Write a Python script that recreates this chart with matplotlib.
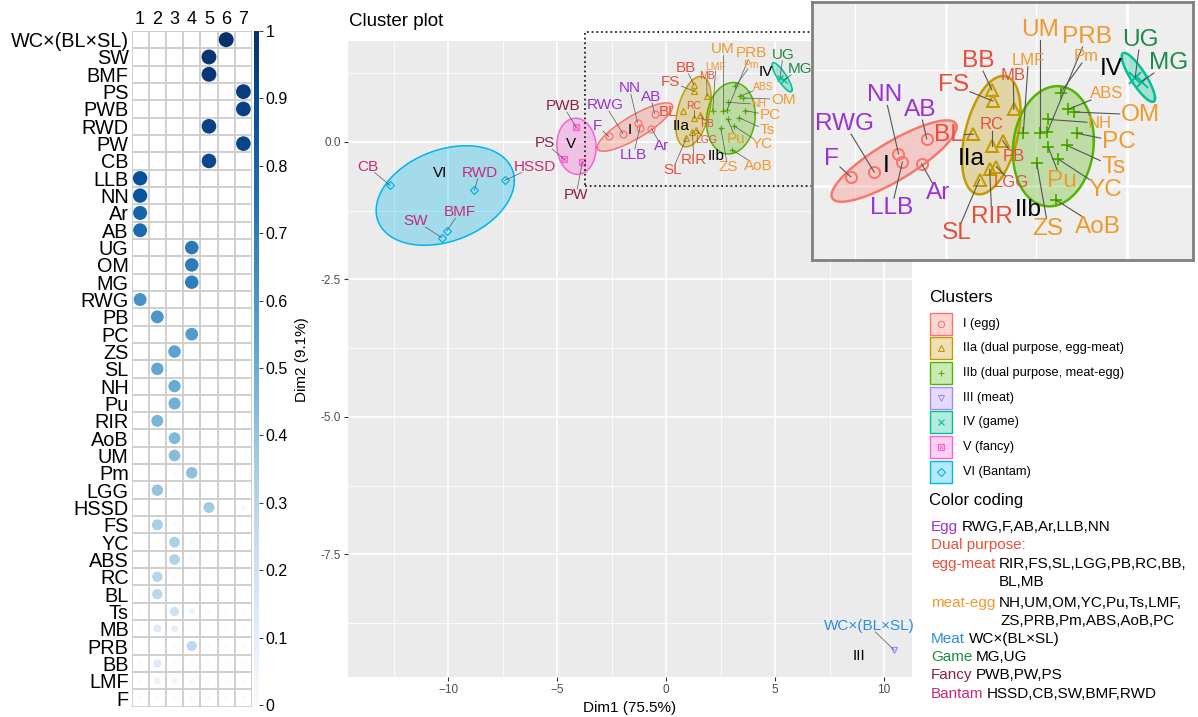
import numpy as np
import matplotlib.pyplot as plt
from matplotlib.patches import Rectangle
from matplotlib.colors import Normalize, to_rgba
from matplotlib.cm import ScalarMappable

plt.rcParams['font.family'] = ['Liberation Sans', 'DejaVu Sans']

W, H = 1198, 717

# ---------------- membership table (rows x groups 1..7) ----------------
rows = ['WC×(BL×SL)', 'SW', 'BMF', 'PS', 'PWB', 'RWD', 'PW', 'CB', 'LLB', 'NN',
        'Ar', 'AB', 'UG', 'OM', 'MG', 'RWG', 'PB', 'PC', 'ZS', 'SL', 'NH', 'Pu',
        'RIR', 'AoB', 'UM', 'Pm', 'LGG', 'HSSD', 'FS', 'YC', 'ABS', 'RC', 'BL',
        'Ts', 'MB', 'PRB', 'BB', 'LMF', 'F']
groups = [1, 2, 3, 4, 5, 6, 7]
member = [
    [0, 0, 0, 0, 0, 1.00, 0],
    [0, 0, 0, 0, 0.98, 0, 0],
    [0, 0, 0, 0, 0.97, 0, 0],
    [0, 0, 0, 0, 0, 0, 0.95],
    [0, 0, 0, 0, 0, 0, 0.94],
    [0, 0, 0, 0, 0.93, 0, 0],
    [0, 0, 0, 0, 0, 0, 0.92],
    [0, 0, 0, 0, 0.91, 0, 0],
    [0.88, 0, 0, 0, 0, 0, 0],
    [0.86, 0, 0, 0, 0, 0, 0],
    [0.80, 0, 0, 0, 0, 0, 0],
    [0.77, 0, 0, 0, 0, 0, 0],
    [0, 0, 0, 0.72, 0, 0, 0],
    [0, 0, 0, 0.71, 0, 0, 0],
    [0, 0, 0, 0.70, 0, 0, 0],
    [0.62, 0, 0, 0, 0, 0, 0],
    [0, 0.60, 0, 0, 0, 0, 0],
    [0, 0, 0, 0.58, 0, 0, 0],
    [0, 0, 0.55, 0, 0, 0, 0],
    [0, 0.53, 0, 0, 0, 0, 0],
    [0, 0, 0.51, 0, 0, 0, 0],
    [0, 0, 0.49, 0, 0, 0, 0],
    [0, 0.47, 0, 0, 0, 0, 0],
    [0, 0, 0.45, 0, 0, 0, 0],
    [0, 0, 0.43, 0, 0, 0, 0],
    [0, 0, 0.01, 0.42, 0, 0, 0],
    [0, 0.40, 0.015, 0, 0, 0, 0],
    [0, 0, 0, 0, 0.36, 0, 0.02],
    [0, 0.35, 0.015, 0, 0, 0, 0],
    [0, 0, 0.33, 0.015, 0.005, 0.005, 0],
    [0, 0, 0.32, 0.015, 0, 0, 0],
    [0, 0.30, 0.015, 0, 0, 0, 0],
    [0.005, 0.29, 0, 0, 0, 0, 0],
    [0.005, 0.005, 0.20, 0.06, 0.005, 0.005, 0.005],
    [0.005, 0.12, 0.09, 0.005, 0, 0.005, 0.005],
    [0, 0.005, 0.015, 0.27, 0.005, 0.005, 0.005],
    [0.005, 0.14, 0.01, 0.01, 0.005, 0.005, 0.005],
    [0.005, 0.07, 0.05, 0.02, 0.005, 0.005, 0.005],
    [0.01, 0.01, 0.01, 0.01, 0.01, 0.01, 0.01],
]

# ---------------- cluster scores ----------------
breed = ['F', 'RWG', 'NN', 'LLB', 'Ar', 'AB',
         'BB', 'FS', 'MB', 'BL', 'RC', 'PB', 'LGG', 'RIR', 'SL',
         'Pm', 'ABS', 'OM', 'LMF', 'UM', 'PRB', 'NH', 'PC', 'Ts', 'Pu', 'YC', 'ZS', 'AoB',
         'WC×(BL×SL)',
         'UG', 'MG',
         'PWB', 'PS', 'PW',
         'CB', 'RWD', 'HSSD', 'BMF', 'SW']
dim1 = [-2.63, -1.98, -1.31, -1.20, -0.67, -0.53,
        1.27, 1.30, 1.88, 0.76, 1.27, 1.57, 1.39, 1.21, 0.93,
        3.17, 3.38, 3.55, 2.14, 2.60, 2.80, 2.83, 3.62, 3.34, 2.83, 3.11, 2.51, 3.04,
        10.46,
        5.23, 5.41,
        -4.13, -4.66, -3.84,
        -12.66, -8.79, -7.40, -10.06, -10.29]
dim2 = [0.10, 0.15, 0.35, 0.26, 0.24, 0.51,
        1.04, 0.92, 0.83, 0.56, 0.43, 0.49, 0.21, 0.18, 0.07,
        1.01, 0.83, 0.80, 0.57, 0.57, 0.58, 0.72, 0.57, 0.44, 0.42, 0.29, 0.25, -0.15,
        -9.24,
        1.17, 1.13,
        0.27, -0.32, -0.37,
        -0.79, -0.88, -0.70, -1.62, -1.74]
cluster = ['I'] * 6 + ['IIa'] * 9 + ['IIb'] * 13 + ['III'] + ['IV'] * 2 + ['V'] * 3 + ['VI'] * 5

# concentration ellipses: centre, half extents and x-y correlation
ell_group = ['I', 'IIa', 'IIb', 'IV', 'V', 'VI']
ell_cx = [-1.43, 1.255, 2.97, 5.32, -4.11, -10.13]
ell_cy = [0.27, 0.55, 0.43, 1.175, -0.08, -0.975]
ell_rx = [1.73, 0.81, 1.12, 0.46, 0.90, 3.17]
ell_ry = [0.44, 0.64, 0.65, 0.265, 0.51, 0.905]
ell_rho = [0.84, 0.40, 0.10, -0.85, -0.05, 0.30]

# breed use categories
cat_names = ['Egg', 'egg-meat', 'meat-egg', 'Meat', 'Game', 'Fancy', 'Bantam']
cat_members = [['RWG', 'F', 'AB', 'Ar', 'LLB', 'NN'],
               ['RIR', 'FS', 'SL', 'LGG', 'PB', 'RC', 'BB', 'BL', 'MB'],
               ['NH', 'UM', 'OM', 'YC', 'Pu', 'Ts', 'LMF', 'ZS', 'PRB', 'Pm', 'ABS', 'AoB', 'PC'],
               ['WC×(BL×SL)'],
               ['MG', 'UG'],
               ['PWB', 'PW', 'PS'],
               ['HSSD', 'CB', 'SW', 'BMF', 'RWD']]

cluster_ids = ['I', 'IIa', 'IIb', 'III', 'IV', 'V', 'VI']
cluster_desc = ['I (egg)', 'IIa (dual purpose, egg-meat)', 'IIb (dual purpose, meat-egg)',
                'III (meat)', 'IV (game)', 'V (fancy)', 'VI (Bantam)']

# ---------------- styles ----------------
clu_col = {'I': '#F8766D', 'IIa': '#C49A00', 'IIb': '#53B400', 'III': '#A58AFF',
           'IV': '#00C094', 'V': '#FB61D7', 'VI': '#00B6EB'}
cat_col = {'Egg': '#9B30D3', 'egg-meat': '#E5503A', 'meat-egg': '#F09A2C', 'Meat': '#2D8CE3',
           'Game': '#1D8B48', 'Fancy': '#8E1E45', 'Bantam': '#C92A78'}
lab_col = {}
for c, mem in zip(cat_names, cat_members):
    for b in mem:
        lab_col[b] = cat_col[c]
small_labels = {'LMF', 'Pm', 'MB', 'RC', 'PB', 'LGG', 'ABS', 'NH'}

label_xy = {
    'F': (-3.16, 0.29), 'RWG': (-2.79, 0.67), 'NN': (-1.68, 0.98), 'LLB': (-1.50, -0.24),
    'Ar': (-0.21, -0.08), 'AB': (-0.71, 0.82),
    'BB': (0.90, 1.35), 'FS': (0.21, 1.09), 'MB': (1.86, 1.19), 'RC': (1.27, 0.66),
    'BL': (0.07, 0.55), 'PB': (1.88, 0.32), 'LGG': (1.82, 0.04), 'RIR': (1.27, -0.33),
    'SL': (0.30, -0.51),
    'UM': (2.60, 1.69), 'PRB': (3.89, 1.61), 'LMF': (2.28, 1.36), 'Pm': (3.89, 1.40),
    'ABS': (4.45, 1.00), 'OM': (5.37, 0.77), 'NH': (4.26, 0.68), 'PC': (4.77, 0.48),
    'Ts': (4.63, 0.21), 'YC': (4.40, -0.04), 'Pu': (3.20, 0.05), 'ZS': (2.83, -0.46),
    'AoB': (4.21, -0.44),
    'WC×(BL×SL)': (9.31, -8.80),
    'UG': (5.37, 1.58), 'MG': (6.15, 1.33),
    'PWB': (-4.72, 0.65), 'PS': (-5.55, -0.02), 'PW': (-4.13, -0.97),
    'CB': (-13.7, -0.45), 'RWD': (-8.56, -0.56), 'HSSD': (-6.04, -0.45),
    'BMF': (-9.48, -1.28), 'SW': (-11.47, -1.44),
}
name_xy = {'I': (-1.65, 0.22), 'IIa': (0.71, 0.29), 'IIb': (2.28, -0.26), 'III': (8.85, -9.34),
           'IV': (4.58, 1.27), 'V': (-4.36, -0.03), 'VI': (-10.37, -0.57)}

marker_of = {'I': 'o', 'IIa': '^', 'IIb': '+', 'III': 'v', 'IV': 'x', 'V': 's', 'VI': 'D'}

fig = plt.figure(figsize=(W / 100, H / 100), dpi=100)


def px_axes(x0, y0, x1, y1):
    return fig.add_axes([x0 / W, 1 - y1 / H, (x1 - x0) / W, (y1 - y0) / H])


# ---------------- membership dot matrix ----------------
axm = px_axes(131.5, 31, 252, 706.7)
nr = len(rows)
axm.set_xlim(0.5, 7.5)
axm.set_ylim(nr + 0.5, 0.5)
for i in range(8):
    axm.axvline(0.5 + i, color='#CCCCCC', lw=1.3, zorder=1)
for j in range(nr + 1):
    axm.axhline(0.5 + j, color='#CCCCCC', lw=1.3, zorder=1)
vals = np.array(member)
ri, ci = np.nonzero(vals > 0)
v = vals[ri, ci]
diam = 15 * v ** 0.3 * 0.72
axm.scatter(ci + 1, ri + 1, s=diam ** 2, c=v, cmap='Blues', vmin=0, vmax=1,
            linewidths=0, zorder=3)
axm.set_xticks(range(1, 8))
axm.set_xticklabels([str(g) for g in groups], fontsize=13)
axm.xaxis.tick_top()
axm.set_yticks(range(1, nr + 1))
axm.set_yticklabels(rows, fontsize=14.3)
axm.tick_params(length=0, pad=2)
for s in axm.spines.values():
    s.set_visible(False)

cax = px_axes(254, 31, 258.5, 705)
cb = fig.colorbar(ScalarMappable(norm=Normalize(0, 1), cmap='Blues'), cax=cax)
cb.set_ticks(np.round(np.arange(0, 1.01, 0.1), 1))
cb.set_ticklabels(['0'] + ['%.1f' % t for t in np.arange(0.1, 0.95, 0.1)] + ['1'])
cb.outline.set_visible(False)
cax.tick_params(labelsize=11.5, length=3, width=0.8, color='#444444', pad=2)


# ---------------- cluster plot ----------------
def draw_clusters(ax, k, only_inside=False):
    ax.set_facecolor('#EBEBEB')
    for gx in [-12.5, -7.5, -2.5, 2.5, 7.5]:
        ax.axvline(gx, color='white', lw=0.6 * k, zorder=0)
    for gy in [1.25, -1.25, -3.75, -6.25, -8.75]:
        ax.axhline(gy, color='white', lw=0.6 * k, zorder=0)
    for gx in [-10, -5, 0, 5, 10]:
        ax.axvline(gx, color='white', lw=1.2 * k, zorder=0)
    for gy in [0, -2.5, -5, -7.5]:
        ax.axhline(gy, color='white', lw=1.2 * k, zorder=0)

    x0, x1 = ax.get_xlim()
    y0, y1 = ax.get_ylim()

    def inside(x, y):
        return (not only_inside) or (x0 <= x <= x1 and y0 <= y <= y1)

    t = np.linspace(0, 2 * np.pi, 300)
    for g, cx, cy, rx, ry, rho in zip(ell_group, ell_cx, ell_cy, ell_rx, ell_ry, ell_rho):
        if not inside(cx, cy):
            continue
        ex = cx + rx * np.cos(t)
        ey = cy + ry * (rho * np.cos(t) + np.sqrt(1 - rho ** 2) * np.sin(t))
        ax.fill(ex, ey, color=clu_col[g], alpha=0.3, lw=0, zorder=1)
        ax.plot(ex, ey, color=clu_col[g], lw=1.1 * k, zorder=2)

    d1 = np.array(dim1)
    d2 = np.array(dim2)
    cl = np.array(cluster)
    keep = np.array([inside(a, b) for a, b in zip(d1, d2)])
    for g in cluster_ids:
        m = (cl == g) & keep
        if not m.any():
            continue
        mk = marker_of[g]
        ms = (4.2 if mk in 'D' else 5) * k
        ax.plot(d1[m], d2[m], ls='none', marker=mk, ms=ms, mfc='none',
                mec=clu_col[g], mew=0.9 * k, zorder=3)
        if g == 'V':
            ax.plot(d1[m], d2[m], ls='none', marker='x', ms=ms * 0.8,
                    mec=clu_col[g], mew=0.8 * k, zorder=3)

    for g, (nx, ny) in name_xy.items():
        if inside(nx, ny):
            ax.text(nx, ny, g, fontsize=11 * k, color='black', ha='center', va='center',
                    zorder=5)

    r = fig.canvas.get_renderer()
    inv = ax.transData.inverted()
    for b, x, y in zip(breed, dim1, dim2):
        lx, ly = label_xy[b]
        if not (inside(lx, ly) and inside(x, y)):
            continue
        fs = (7.5 if b in small_labels else 11) * k
        txt = ax.text(lx, ly, b, fontsize=fs, color=lab_col[b], ha='center', va='center',
                      zorder=6, clip_on=only_inside)
        bb = txt.get_window_extent(r)
        p = ax.transData.transform((x, y))
        c = np.array([(bb.x0 + bb.x1) / 2, (bb.y0 + bb.y1) / 2])
        d = c - p
        hw = bb.width / 2 + 1
        hh = bb.height / 2 - 1
        s = min(hw / abs(d[0]) if d[0] else np.inf, hh / abs(d[1]) if d[1] else np.inf)
        if s >= 1:
            continue
        end = c - d * s
        if np.hypot(*(end - p)) < 5 * k:
            continue
        seg = inv.transform(np.array([p, end]))
        ax.plot(seg[:, 0], seg[:, 1], color='#555555', lw=0.5 * k, zorder=4,
                clip_on=only_inside)


ax = px_axes(348, 40.7, 912, 677)
ax.set_xlim(-14.59, 11.28)
ax.set_ylim(-9.73, 1.84)
ax.set_xticks([-10, -5, 0, 5, 10])
ax.set_xticklabels(['\u221210', '\u22125', '0', '5', '10'])
ax.set_yticks([0, -2.5, -5, -7.5])
ax.set_yticklabels(['0.0', '-2.5', '-5.0', '-7.5'])
ax.tick_params(labelsize=8.5, labelcolor='#4D4D4D', color='#333333', length=3, width=0.8, pad=2)
for s in ax.spines.values():
    s.set_visible(False)
draw_clusters(ax, 1.0)

# zoomed region
zx0, zx1, zy0, zy1 = -3.70, 6.83, -0.80, 1.99
ax.add_patch(Rectangle((zx0, zy0), zx1 - zx0, zy1 - zy0, fill=False, ec='#222222',
                       lw=1.3, ls=(0, (1, 1.6)), zorder=7, clip_on=False))

axz = px_axes(812, 2, 1193, 260)
axz.set_xlim(zx0, zx1)
axz.set_ylim(zy0, zy1)
axz.set_xticks([])
axz.set_yticks([])
for s in axz.spines.values():
    s.set_color('#808080')
    s.set_linewidth(2)
draw_clusters(axz, 1.6, only_inside=True)
axz.set_facecolor('#EEEEEE')

fig.text(349 / W, 1 - 22 / H, 'Cluster plot', fontsize=13.5, ha='left', va='center')
fig.text(630 / W, 1 - 708 / H, 'Dim1 (75.5%)', fontsize=11, ha='center', va='center')
fig.text(302 / W, 1 - 360 / H, 'Dim2 (9.1%)', fontsize=11, ha='center', va='center',
         rotation=90)

# ---------------- legends ----------------
axl = px_axes(915, 280, 1198, 717)
axl.set_xlim(915, 1198)
axl.set_ylim(717, 280)
axl.axis('off')
axl.text(929, 297, 'Clusters', fontsize=12.5, ha='left', va='center')
key_y = 323.5
for g, desc in zip(cluster_ids, cluster_desc):
    col = clu_col[g]
    fc = np.array(to_rgba(col)) * 0.3 + np.array([1, 1, 1, 1]) * 0.7
    axl.add_patch(Rectangle((930, key_y - 11), 22, 22, fc=fc, ec=col, lw=1))
    mk = marker_of[g]
    axl.plot(941, key_y, ls='none', marker=mk, ms=4.5, mfc='none', mec=col, mew=0.8)
    if g == 'V':
        axl.plot(941, key_y, ls='none', marker='x', ms=3.5, mec=col, mew=0.7)
    axl.text(963, key_y, desc, fontsize=9.2, ha='left', va='center')
    key_y += 24.7

axl.text(929, 501, 'Color coding', fontsize=12, ha='left', va='center')
r = fig.canvas.get_renderer()
fs_code = 11


def coded_line(y, head, color, rest, x=931):
    t1 = axl.text(x, y, head, fontsize=fs_code, color=color, ha='left', va='center')
    if rest is None:
        return None
    w = t1.get_window_extent(r).width
    sp = 3.5
    axl.text(x + w + sp, y, rest, fontsize=fs_code, ha='left', va='center')
    return x + w + sp


coded_line(527, 'Egg', cat_col['Egg'], ','.join(cat_members[0]))
coded_line(545, 'Dual purpose:', cat_col['egg-meat'], None)
em = cat_members[1]
xr = coded_line(564, 'egg-meat', cat_col['egg-meat'], ','.join(em[:7]) + ',')
axl.text(xr, 582, ','.join(em[7:]), fontsize=fs_code, ha='left', va='center')
me = cat_members[2]
xr = coded_line(603, 'meat-egg', cat_col['meat-egg'], ','.join(me[:7]) + ',')
axl.text(xr + 2, 621, ','.join(me[7:]), fontsize=fs_code, ha='left', va='center')
coded_line(639, 'Meat', cat_col['Meat'], cat_members[3][0])
coded_line(657, 'Game', cat_col['Game'], ','.join(cat_members[4]))
coded_line(675, 'Fancy', cat_col['Fancy'], ','.join(cat_members[5]))
coded_line(694, 'Bantam', cat_col['Bantam'], ','.join(cat_members[6]))

fig.savefig('out.png', dpi=100)
